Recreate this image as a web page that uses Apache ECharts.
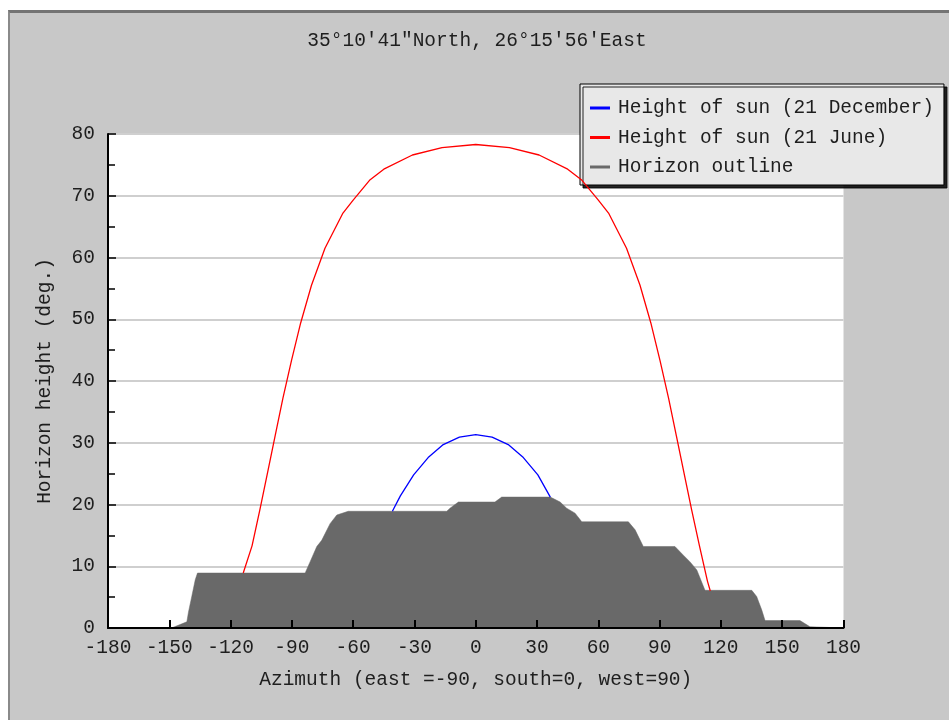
<!DOCTYPE html>
<html>
<head>
<meta charset="utf-8">
<script src="https://cdn.jsdelivr.net/npm/echarts@6/dist/echarts.min.js"></script>
<style>
  html, body { margin: 0; padding: 0; background: #ffffff; }
  #wrap { position: relative; width: 949px; height: 720px; overflow: hidden; background: #ffffff; }
  #frame { position: absolute; left: 8px; top: 10px; width: 960px; height: 720px;
           background: #c8c8c8; border-top: 3px solid #747474; border-left: 2px solid #8a8a8a; }
  #chart { position: absolute; left: 0; top: 0; width: 949px; height: 720px; }
</style>
</head>
<body>
<div id="wrap"><div id="frame"></div><div id="chart"></div></div>
<script>
// ---- data ----
const titleText = "35°10′41\"North, 26°15′56'East";
const xTicks = [-180, -150, -120, -90, -60, -30, 0, 30, 60, 90, 120, 150, 180];
const yTicks = [0, 10, 20, 30, 40, 50, 60, 70, 80];

const decAz = [-40.8, -36.9, -30.4, -23.3, -15.9, -8.0, 0, 8.0, 15.9, 23.3, 30.4, 36.5];
const decH  = [18.9, 21.4, 24.8, 27.6, 29.7, 30.9, 31.3, 30.9, 29.7, 27.6, 24.8, 21.2];

const juneAz = [-113.8, -109.5, -105.7, -102.0, -98.2, -94.4, -90.2, -85.7, -80.4, -73.8, -65.0, -60.0, -52.0, -45.0, -31.0, -16.5, 0,
                16.5, 31.0, 45.0, 52.0, 60.0, 65.0, 73.8, 80.4, 85.7, 90.2, 94.4, 98.2, 102.0, 105.7, 109.5, 113.4, 114.8];
const juneH  = [8.9, 13.3, 19.1, 25.0, 31.1, 37.2, 43.3, 49.4, 55.5, 61.5, 67.2, 69.3, 72.5, 74.3, 76.6, 77.8, 78.3,
                77.8, 76.6, 74.3, 72.5, 69.3, 67.2, 61.5, 55.5, 49.4, 43.3, 37.2, 31.1, 25.0, 19.1, 13.3, 7.6, 6.0];

const horizonAz = [-180, -148.9, -141.4, -140.6, -139.0, -137.3, -136.2, -83.5, -81.1, -77.8, -75.4, -71.3, -68.0, -62.4,
                   -14.2, -12.6, -8.5, 9.4, 12.7, 36.5, 41.3, 44.5, 48.6, 51.9, 74.7, 78.0, 82.0, 97.5, 101.6, 104.9,
                   108.2, 112.2, 135.1, 137.5, 140.0, 141.6, 158.7, 163.6, 180];
const horizonH  = [0, 0, 1.0, 2.6, 5.1, 7.8, 8.9, 8.9, 10.7, 13.2, 14.2, 16.9, 18.3, 18.9,
                   18.9, 19.4, 20.4, 20.4, 21.2, 21.2, 20.4, 19.4, 18.6, 17.2, 17.2, 15.9, 13.2, 13.2, 11.8, 10.7,
                   9.4, 6.1, 6.1, 5.1, 2.9, 1.2, 1.2, 0.2, 0];

const seriesNames = ["Height of sun (21 December)", "Height of sun (21 June)", "Horizon outline"];
const seriesColors = ["#0000ff", "#ff0000", "#6a6a6a"];

const pairs = (xs, ys) => xs.map((x, i) => [x, ys[i]]);

const FONT = "Liberation Mono";
const FS = 19.5;
const TXT = "#1e1e1e";

const chart = echarts.init(document.getElementById('chart'), null, { renderer: 'canvas' });
chart.setOption({
  backgroundColor: 'transparent',
  animation: false,
  textStyle: { fontFamily: FONT },
  title: {
    text: titleText, left: 472, top: 26, textAlign: 'center',
    textStyle: { fontFamily: FONT, fontSize: FS, fontWeight: 'normal', color: TXT }
  },
  legend: {
    orient: 'vertical', left: 580, top: 84,
    backgroundColor: '#e8e8e8', borderColor: '#000000', borderWidth: 1, borderRadius: 0,
    padding: [14, 10, 8, 10], itemGap: 9.5, itemWidth: 20, itemHeight: 3,
    shadowColor: 'rgba(0,0,0,0.85)', shadowBlur: 0, shadowOffsetX: 3, shadowOffsetY: 3,
    textStyle: { fontFamily: FONT, fontSize: FS, color: TXT, lineHeight: 20, padding: [0, 0, 0, 3] },
    data: seriesNames.map((n, i) => ({ name: n, icon: 'rect', itemStyle: { color: seriesColors[i] } }))
  },
  grid: { left: 108, right: 105.5, top: 134, bottom: 92, show: true, backgroundColor: '#ffffff', borderWidth: 0 },
  xAxis: {
    type: 'value', z: 10, min: xTicks[0], max: xTicks[xTicks.length - 1], interval: 30,
    name: 'Azimuth (east =-90, south=0, west=90)', nameLocation: 'middle', nameGap: 42,
    nameTextStyle: { fontFamily: FONT, fontSize: FS, color: TXT },
    axisLine: { show: true, onZero: false, lineStyle: { color: '#000', width: 2 } },
    axisTick: { show: true, inside: true, length: 8, lineStyle: { color: '#000', width: 2 } },
    axisLabel: { fontFamily: FONT, fontSize: FS, color: TXT, margin: 10 },
    splitLine: { show: false }
  },
  yAxis: {
    type: 'value', position: 'left', min: yTicks[0], max: yTicks[yTicks.length - 1], interval: 10,
    name: 'Horizon height (deg.)', nameLocation: 'middle', nameGap: 53,
    nameTextStyle: { fontFamily: FONT, fontSize: FS, color: TXT },
    axisLine: { show: true, onZero: false, lineStyle: { color: '#000', width: 2 } },
    axisTick: { show: true, inside: true, length: 8, lineStyle: { color: '#000', width: 1.5 } },
    minorTick: { show: true, splitNumber: 2, length: 7, lineStyle: { color: '#000', width: 1.5 } },
    axisLabel: { fontFamily: FONT, fontSize: FS, color: TXT, margin: 13, inside: false },
    splitLine: { show: true, lineStyle: { color: '#cfcfcf', width: 2 } }
  },
  series: [
    {
      name: seriesNames[0], type: 'line', data: pairs(decAz, decH), symbol: 'none', z: 4,
      lineStyle: { color: seriesColors[0], width: 1.3 }, itemStyle: { color: seriesColors[0] }
    },
    {
      name: seriesNames[1], type: 'line', data: pairs(juneAz, juneH), symbol: 'none', z: 4,
      lineStyle: { color: seriesColors[1], width: 1.3 }, itemStyle: { color: seriesColors[1] }
    },
    {
      name: seriesNames[2], type: 'line', data: pairs(horizonAz, horizonH), symbol: 'none', z: 2,
      lineStyle: { color: '#696969', width: 0.5 }, itemStyle: { color: seriesColors[2] },
      areaStyle: { color: '#696969', opacity: 1 }
    }
  ]
});
</script>
</body>
</html>
